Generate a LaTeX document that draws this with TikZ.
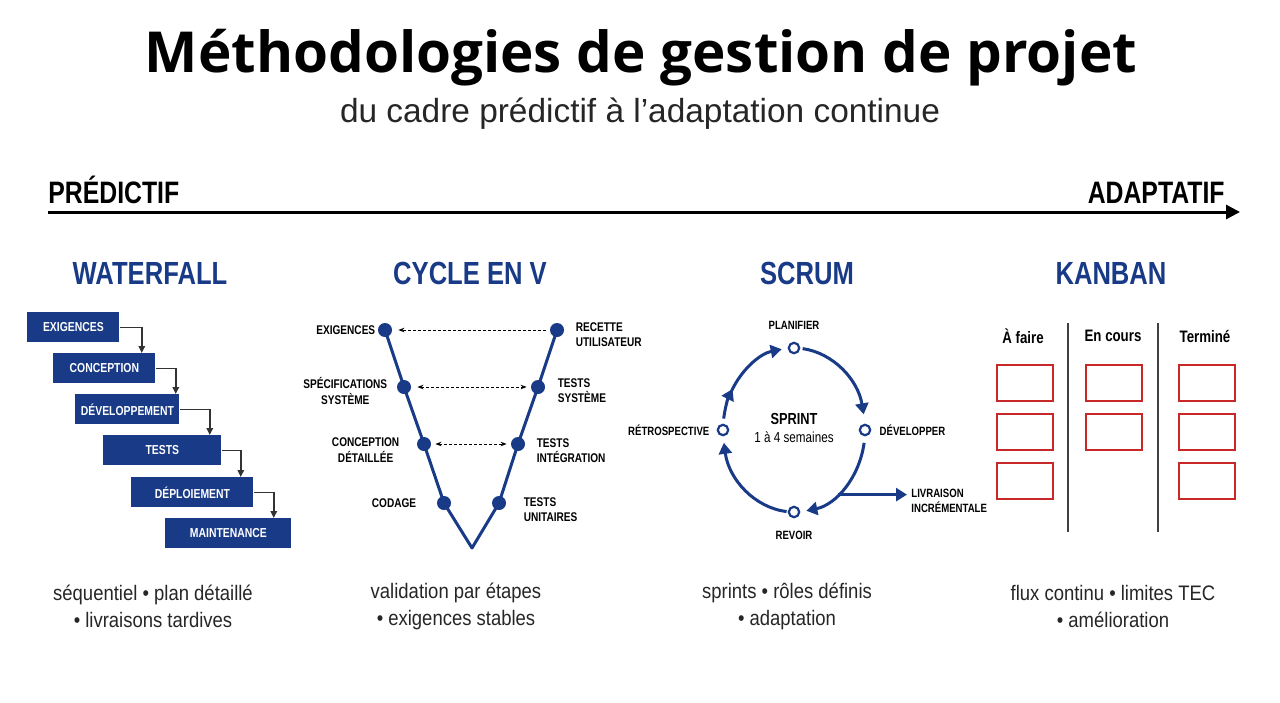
\documentclass[tikz,border=0pt]{standalone}
\usepackage{fontspec}
\usepackage{xcolor}
\usepackage{tikz}
\usetikzlibrary{positioning, arrows.meta}
\setmainfont{Liberation Sans}
\newfontfamily\ttlfont{Open Sans}
\newfontfamily\condfont[FakeStretch=0.8]{Liberation Sans}
\newfontfamily\bodyfont[FakeStretch=0.88]{Liberation Sans}
\definecolor{navy}{RGB}{24,58,135}
\definecolor{cardred}{RGB}{200,40,40}

\begin{document}
\begin{tikzpicture}[
  x=0.5pt, y=0.5pt,
  wfbox/.style={fill=navy, text=white, minimum height=15pt, inner sep=0pt,
                anchor=north west, font=\condfont\bfseries\fontsize{6.5}{7}\selectfont},
  wfarr/.style={-{Triangle[length=3.5pt,width=3.2pt]}, line width=0.8pt, draw=black!80},
  head/.style={text=navy, anchor=base, font=\condfont\bfseries\fontsize{16}{18}\selectfont},
  axlab/.style={anchor=base, inner sep=0pt, font=\condfont\bfseries\fontsize{15.5}{17}\selectfont},
  dot/.style={circle, fill=navy, inner sep=0pt, minimum size=7pt},
  ring/.style={circle, draw=navy, fill=white, line width=1.1pt, inner sep=0pt, minimum size=5.2pt},
  lab/.style={inner sep=1pt, font=\condfont\bfseries\fontsize{6.3}{7.6}\selectfont},
  slab/.style={lab, font=\condfont\bfseries\fontsize{6}{7.2}\selectfont},
  vline/.style={draw=navy, line width=1.5pt, line join=round},
  vdash/.style={dash pattern=on 1.5pt off 1pt, line width=0.5pt},
  scarr/.style={draw=navy, line width=1.5pt, -{Triangle[length=5.5pt,width=6.5pt]}},
  card/.style={draw=cardred, line width=1pt, minimum width=28pt,
               minimum height=18pt, inner sep=0pt},
  colhead/.style={font=\condfont\bfseries\fontsize{8.3}{10}\selectfont},
  note/.style={align=center, text=black!85, font=\bodyfont\fontsize{10.5}{13.5}\selectfont},
]
\fill[white] (0,0) rectangle (1280,-702);
\useasboundingbox (0,0) rectangle (1280,-702);

\node[anchor=base, inner sep=0pt] (title) at (641,-72)
  {\resizebox{496pt}{!}{\ttlfont\bfseries Méthodologies de gestion de projet}};
\node[anchor=base, inner sep=0pt, text=black!85] (sub) at (640,-122)
  {\resizebox{300pt}{!}{du cadre prédictif à l’adaptation continue}};

\node[axlab, anchor=base west] (pred) at (48,-203) {PRÉDICTIF};
\node[axlab, anchor=base east] (adap) at (1225,-203) {ADAPTATIF};
\coordinate (ax0) at (48,-212);
\coordinate (ax1) at (1240,-212);
\draw[line width=1.5pt, -{Triangle[length=7pt,width=7pt]}] (ax0) -- (ax1);

\node[head] (hwf) at (150,-284) {WATERFALL};
\node[head] (hv)  at (470,-284) {CYCLE EN V};
\node[head] (hsc) at (807,-284) {SCRUM};
\node[head] (hkb) at (1111,-284) {KANBAN};

\node[wfbox, minimum width=46pt] (ex)  at (27,-312)  {EXIGENCES};
\node[wfbox, minimum width=51pt] (co)  at (53,-353)  {CONCEPTION};
\node[wfbox, minimum width=52pt] (dev) at (75,-394)  {DÉVELOPPEMENT};
\node[wfbox, minimum width=59pt] (te)  at (103,-435) {TESTS};
\node[wfbox, minimum width=61pt] (dep) at (131,-477) {DÉPLOIEMENT};
\node[wfbox, minimum width=63pt] (mt)  at (165,-518) {MAINTENANCE};
\foreach \a/\b/\d in {ex/co/22, co/dev/20, dev/te/30, te/dep/19, dep/mt/20}
  \draw[wfarr] (\a.east) -- ++(\d,0) coordinate (t) -- (t |- \b.north);

\node[dot] (v1) at (385,-330) {};
\node[dot] (v2) at (404,-387) {};
\node[dot] (v3) at (424,-444) {};
\node[dot] (v4) at (444,-503) {};
\coordinate (vb) at (472,-548);
\node[dot] (w4) at (499,-503) {};
\node[dot] (w3) at (518,-444) {};
\node[dot] (w2) at (538,-387) {};
\node[dot] (w1) at (557,-330) {};
\draw[vline] (v1.center) -- (v2.center) -- (v3.center) -- (v4.center) -- (vb)
  -- (w4.center) -- (w3.center) -- (w2.center) -- (w1.center);
\draw[vdash, -{Stealth[length=3pt]}, shorten <=2pt, shorten >=3pt] (w1) -- (v1);
\draw[vdash, {Stealth[length=3pt]}-{Stealth[length=3pt]}, shorten <=3pt, shorten >=2pt] (v2) -- (w2);
\draw[vdash, {Stealth[length=3pt]}-{Stealth[length=3pt]}, shorten <=2pt, shorten >=2pt] (v3) -- (w3);

\node[lab, left=0pt of v1] (lv1) {EXIGENCES};
\node[lab, align=center, left=3.5pt of v2, yshift=-2pt] (lv2) {SPÉCIFICATIONS\\SYSTÈME};
\node[lab, align=center, left=7.5pt of v3, yshift=-3pt] (lv3) {CONCEPTION\\DÉTAILLÉE};
\node[lab, left=9pt of v4] (lv4) {CODAGE};
\node[lab, align=left, right=4.5pt of w1, yshift=-2.5pt] (lw1) {RECETTE\\UTILISATEUR};
\node[lab, align=left, right=5pt of w2, yshift=-2pt] (lw2) {TESTS\\SYSTÈME};
\node[lab, align=left, right=4.5pt of w3, yshift=-3.5pt] (lw3) {TESTS\\INTÉGRATION};
\node[lab, align=left, right=7.5pt of w4, yshift=-3.5pt] (lw4) {TESTS\\UNITAIRES};

\coordinate (sc) at (794,-430);
\node[ring] (pl) at (794,-348) {};
\node[ring] (dv) at (865,-430) {};
\node[ring] (rv) at (794,-512) {};
\node[ring] (rt) at (723,-430) {};
\draw[scarr] ([shift={(83:71 and 82)}]sc) arc[start angle=83, end angle=11, x radius=71, y radius=82];
\draw[scarr] ([shift={(-9:71 and 82)}]sc) arc[start angle=-9, end angle=-80, x radius=71, y radius=82];
\draw[scarr] ([shift={(-96:71 and 82)}]sc) arc[start angle=-96, end angle=-171, x radius=71, y radius=82];
\draw[scarr] ([shift={(172:71 and 82)}]sc) arc[start angle=172, end angle=150, x radius=71, y radius=82];
\draw[scarr] ([shift={(152:71 and 82)}]sc) arc[start angle=152, end angle=100, x radius=71, y radius=82];

\node[slab, above=5pt of pl] (lpl) {PLANIFIER};
\node[slab, right=3pt of dv] (ldv) {DÉVELOPPER};
\node[slab, below=5pt of rv] (lrv) {REVOIR};
\node[slab, left=2.5pt of rt] (lrt) {RÉTROSPECTIVE};
\node[align=center, font=\condfont\fontsize{7.3}{9}\selectfont] (spr) at (794,-428)
  {{\bfseries\fontsize{8}{9}\selectfont SPRINT}\\1 à 4 semaines};
\coordinate (lv) at ([shift={(-52:71 and 82)}]sc);
\node[slab, align=left, anchor=west, inner sep=2pt] (liv) at (907,-501) {LIVRAISON\\INCRÉMENTALE};
\draw[scarr] (lv) -- (lv -| liv.west);

\node[colhead] (kc1) at (1023,-336) {À faire};
\node[colhead] (kc2) at (1113,-336) {En cours};
\node[colhead] (kc3) at (1205,-336) {Terminé};
\draw[line width=1pt, draw=black!75] (1068,-323) -- (1068,-532);
\draw[line width=1pt, draw=black!75] (1158,-323) -- (1158,-532);
\foreach \c/\x/\n in {1/1024.5/3, 2/1114/2, 3/1207/3}
  \foreach \r/\y in {1/383, 2/431.5, 3/481}
    {\ifnum\r>\n\else\node[card] (k\c\r) at (\x,-\y) {};\fi}

\node[note] (nwf) at (153,-606) {séquentiel • plan détaillé\\• livraisons tardives};
\node[note] (nv)  at (456,-606) {validation par étapes\\• exigences stables};
\node[note] (nsc) at (787,-606) {sprints • rôles définis\\• adaptation};
\node[note] (nkb) at (1113,-606) {flux continu • limites TEC\\• amélioration};
\end{tikzpicture}
\end{document}
